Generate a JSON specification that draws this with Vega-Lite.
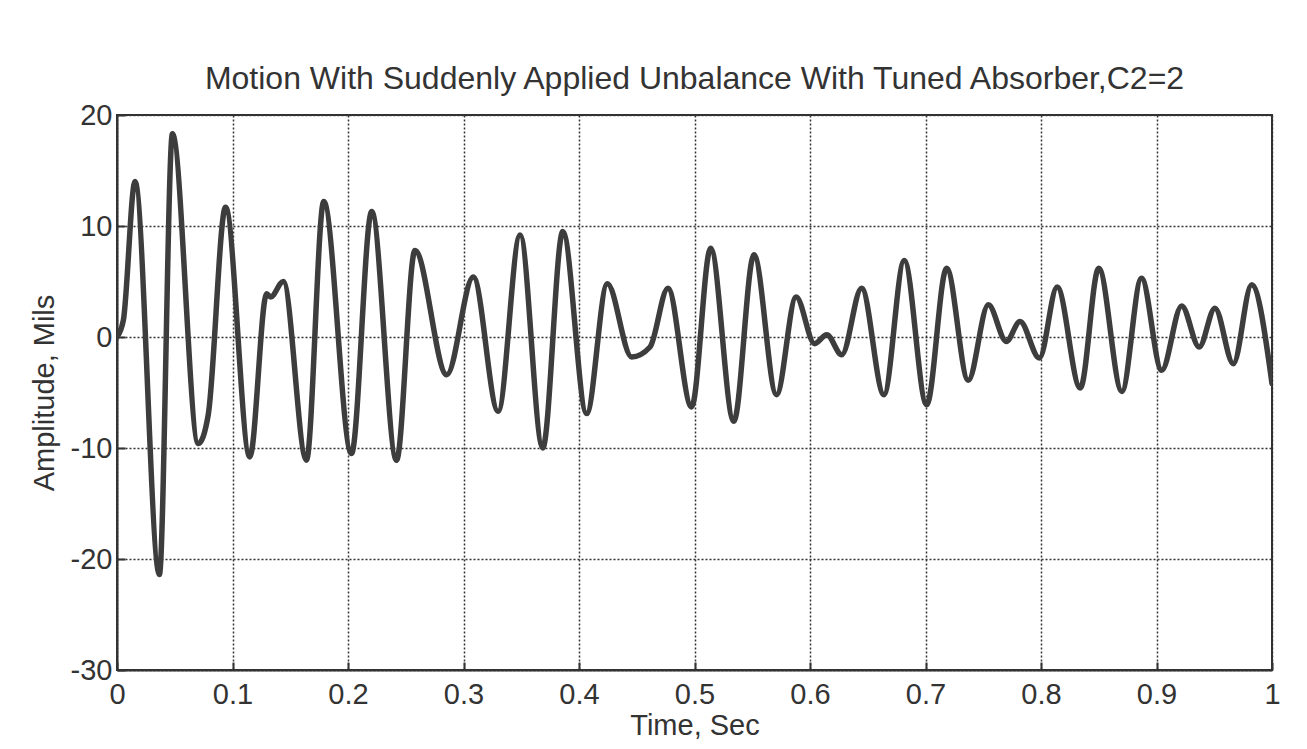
{
  "$schema": "https://vega.github.io/schema/vega-lite/v6.json",
  "width": 1155,
  "height": 555,
  "autosize": {"type": "none"},
  "padding": {"left": 117, "top": 115, "right": 35, "bottom": 79},
  "background": "white",
  "title": {
    "text": "Motion With Suddenly Applied Unbalance With Tuned Absorber,C2=2",
    "font": "Liberation Sans",
    "fontSize": 32,
    "fontWeight": "normal",
    "color": "#333333",
    "anchor": "middle",
    "offset": 5,
    "limit": 1250
  },
  "data": {
    "values": [
      {"t": 0, "amp": 0},
      {"t": 0.0055, "amp": 1.5},
      {"t": 0.0156, "amp": 14.0},
      {"t": 0.0367, "amp": -21.4},
      {"t": 0.048, "amp": 18.3},
      {"t": 0.0704, "amp": -9.6},
      {"t": 0.079, "amp": -7.0},
      {"t": 0.094, "amp": 11.7},
      {"t": 0.115, "amp": -10.8},
      {"t": 0.1296, "amp": 3.9},
      {"t": 0.133, "amp": 3.6},
      {"t": 0.144, "amp": 5.0},
      {"t": 0.164, "amp": -11.1},
      {"t": 0.179, "amp": 12.2},
      {"t": 0.203, "amp": -10.5},
      {"t": 0.2205, "amp": 11.3},
      {"t": 0.242, "amp": -11.1},
      {"t": 0.258, "amp": 7.8},
      {"t": 0.2855, "amp": -3.4},
      {"t": 0.3085, "amp": 5.4},
      {"t": 0.33, "amp": -6.7},
      {"t": 0.349, "amp": 9.2},
      {"t": 0.3686, "amp": -10.0},
      {"t": 0.386, "amp": 9.5},
      {"t": 0.4066, "amp": -6.9},
      {"t": 0.4245, "amp": 4.8},
      {"t": 0.4456, "amp": -1.8},
      {"t": 0.4615, "amp": -0.9},
      {"t": 0.477, "amp": 4.4},
      {"t": 0.4975, "amp": -6.3},
      {"t": 0.514, "amp": 8.0},
      {"t": 0.534, "amp": -7.6},
      {"t": 0.5515, "amp": 7.4},
      {"t": 0.571, "amp": -5.2},
      {"t": 0.588, "amp": 3.6},
      {"t": 0.604, "amp": -0.6},
      {"t": 0.6145, "amp": 0.2},
      {"t": 0.6275, "amp": -1.6},
      {"t": 0.6447, "amp": 4.4},
      {"t": 0.664, "amp": -5.2},
      {"t": 0.6816, "amp": 6.9},
      {"t": 0.701, "amp": -6.1},
      {"t": 0.7183, "amp": 6.2},
      {"t": 0.737, "amp": -3.9},
      {"t": 0.7544, "amp": 2.9},
      {"t": 0.77, "amp": -0.4},
      {"t": 0.7818, "amp": 1.4},
      {"t": 0.7986, "amp": -1.9},
      {"t": 0.814, "amp": 4.5},
      {"t": 0.834, "amp": -4.6},
      {"t": 0.85, "amp": 6.2},
      {"t": 0.87, "amp": -4.9},
      {"t": 0.887, "amp": 5.3},
      {"t": 0.9045, "amp": -3.0},
      {"t": 0.9218, "amp": 2.8},
      {"t": 0.937, "amp": -0.9},
      {"t": 0.9506, "amp": 2.6},
      {"t": 0.9665, "amp": -2.4},
      {"t": 0.9824, "amp": 4.7},
      {"t": 1.0, "amp": -4.2}
    ]
  },
  "mark": {
    "type": "line",
    "interpolate": "monotone",
    "color": "#3d3d3d",
    "strokeWidth": 5.5,
    "strokeJoin": "round",
    "strokeCap": "round",
    "clip": true
  },
  "encoding": {
    "x": {
      "field": "t",
      "type": "quantitative",
      "scale": {"domain": [0, 1], "nice": false, "zero": false},
      "axis": {
        "title": "Time, Sec",
        "values": [0, 0.1, 0.2, 0.3, 0.4, 0.5, 0.6, 0.7, 0.8, 0.9, 1],
        "labelExpr": "'' + datum.value",
        "labelPadding": 18,
        "titlePadding": 2
      }
    },
    "y": {
      "field": "amp",
      "type": "quantitative",
      "scale": {"domain": [-30, 20], "nice": false, "zero": false},
      "axis": {
        "title": "Amplitude, Mils",
        "values": [-30, -20, -10, 0, 10, 20],
        "labelExpr": "'' + datum.value",
        "labelPadding": 13,
        "titlePadding": 11
      }
    }
  },
  "config": {
    "view": {"stroke": "#333333", "strokeWidth": 2},
    "axis": {
      "labelFont": "Liberation Sans",
      "labelFontSize": 29,
      "labelColor": "#333333",
      "titleFont": "Liberation Sans",
      "titleFontSize": 29,
      "titleFontWeight": "normal",
      "titleColor": "#333333",
      "grid": true,
      "gridColor": "#333333",
      "gridDash": [2, 2],
      "gridWidth": 1.5,
      "gridOpacity": 1,
      "domainColor": "#333333",
      "domainWidth": 2,
      "tickColor": "#333333",
      "tickWidth": 2,
      "tickSize": -8,
      "labelFlush": false,
      "labelOverlap": false
    }
  }
}
